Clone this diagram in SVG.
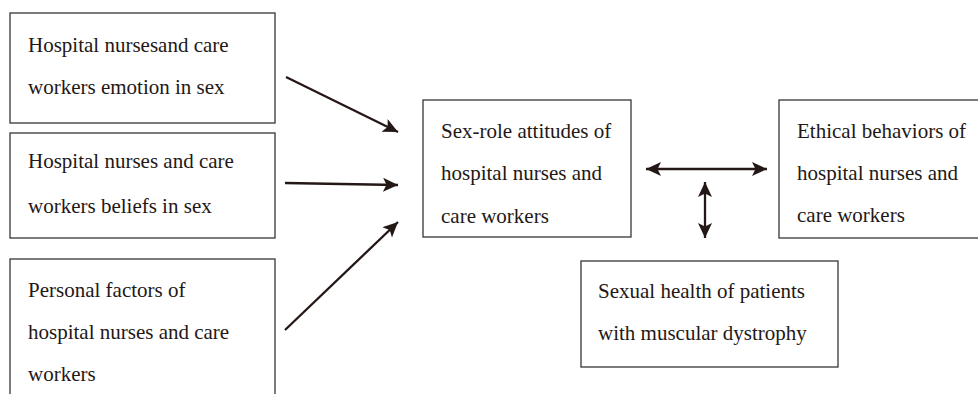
<svg xmlns="http://www.w3.org/2000/svg" width="978" height="394" viewBox="0 0 978 394">
<defs>
<style>
.box{fill:#fff;stroke:#3a3535;stroke-width:1.3}
.t{font-family:"Liberation Serif","Times New Roman",serif;font-size:21px;fill:#231815}
.c{stroke:#231815;stroke-width:2.3;fill:none}
</style>
<marker id="ah" markerUnits="userSpaceOnUse" markerWidth="17" markerHeight="15" refX="15" refY="7" orient="auto-start-reverse">
<path d="M0,0 L15,7 L0,14 L3.5,7 Z" fill="#231815"/>
</marker>
</defs>
<rect width="978" height="394" fill="#fff"/>
<g id="n1">
<rect class="box" x="10" y="13" width="265" height="110"/>
<text class="t" x="28" y="52">Hospital nursesand care</text>
<text class="t" x="28" y="94">workers emotion in sex</text>
</g>
<g id="n2">
<rect class="box" x="10" y="133" width="265" height="105"/>
<text class="t" x="28" y="168">Hospital nurses and care</text>
<text class="t" x="28" y="213">workers beliefs in sex</text>
</g>
<g id="n3">
<rect class="box" x="10" y="259" width="265" height="150"/>
<text class="t" x="28" y="297">Personal factors of</text>
<text class="t" x="28" y="339">hospital nurses and care</text>
<text class="t" x="28" y="381">workers</text>
</g>
<g id="n4">
<rect class="box" x="423" y="100" width="208" height="137"/>
<text class="t" x="441" y="138">Sex-role attitudes of</text>
<text class="t" x="441" y="180">hospital nurses and</text>
<text class="t" x="441" y="223">care workers</text>
</g>
<g id="n5">
<rect class="box" x="779" y="100" width="210" height="138"/>
<text class="t" x="797" y="138">Ethical behaviors of</text>
<text class="t" x="797" y="180">hospital nurses and</text>
<text class="t" x="797" y="222">care workers</text>
</g>
<g id="n6">
<rect class="box" x="581" y="261" width="257" height="106"/>
<text class="t" x="598" y="298">Sexual health of patients</text>
<text class="t" x="598" y="340">with muscular dystrophy</text>
</g>
<g id="connectors">
<line class="c" x1="286" y1="77" x2="398" y2="132" marker-end="url(#ah)"/>
<line class="c" x1="285" y1="183" x2="398" y2="185" marker-end="url(#ah)"/>
<line class="c" x1="285" y1="330" x2="398" y2="222" marker-end="url(#ah)"/>
<line class="c" x1="646" y1="169" x2="767" y2="169" marker-start="url(#ah)" marker-end="url(#ah)"/>
<line class="c" x1="705" y1="182" x2="705" y2="238" marker-start="url(#ah)" marker-end="url(#ah)"/>
</g>
</svg>
